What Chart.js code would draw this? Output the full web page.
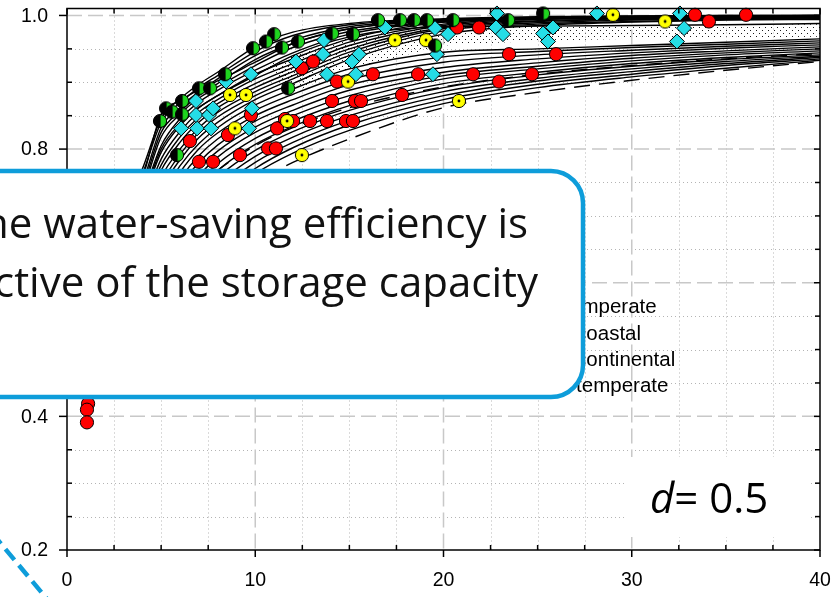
<!DOCTYPE html>
<html>
<head>
<meta charset="utf-8">
<script src="https://cdn.jsdelivr.net/npm/chart.js@4.4.1/dist/chart.umd.min.js"></script>
<style>
  html, body { margin: 0; padding: 0; background: #fff; overflow: hidden; }
  canvas { display: block; }
</style>
</head>
<body>
<canvas id="chart" width="837" height="597"></canvas>
<script>
// Storage capacity values shared by every efficiency curve
const capacity = [1, 2, 3, 4, 5, 6, 7, 8, 10, 12, 15, 20, 25, 30, 35, 40];

// Water-saving efficiency curves (one row per site)
const upperCurves = [
  [0.55, 0.64, 0.71, 0.770, 0.846, 0.875, 0.897, 0.915, 0.953, 0.975, 0.988, 0.995, 0.998, 0.999, 1.000, 1.000],
  [0.54, 0.63, 0.70, 0.762, 0.840, 0.869, 0.892, 0.910, 0.946, 0.970, 0.986, 0.994, 0.997, 0.999, 1.000, 1.000],
  [0.54, 0.63, 0.70, 0.756, 0.852, 0.872, 0.889, 0.902, 0.930, 0.958, 0.980, 0.993, 0.997, 0.999, 0.999, 1.000],
  [0.53, 0.62, 0.69, 0.748, 0.832, 0.862, 0.886, 0.905, 0.940, 0.963, 0.983, 0.993, 0.997, 0.998, 0.999, 1.000],
  [0.53, 0.62, 0.69, 0.742, 0.825, 0.856, 0.880, 0.898, 0.934, 0.958, 0.980, 0.992, 0.996, 0.998, 0.999, 0.999],
  [0.52, 0.61, 0.68, 0.736, 0.818, 0.852, 0.876, 0.893, 0.925, 0.952, 0.976, 0.991, 0.996, 0.998, 0.999, 0.999],
  [0.52, 0.61, 0.68, 0.730, 0.805, 0.845, 0.870, 0.888, 0.918, 0.944, 0.972, 0.990, 0.995, 0.997, 0.998, 0.999],
  [0.51, 0.60, 0.67, 0.725, 0.800, 0.838, 0.862, 0.880, 0.910, 0.940, 0.968, 0.983, 0.984, 0.985, 0.986, 0.988]
];
const middleCurves = [
  [0.51, 0.60, 0.67, 0.722, 0.795, 0.835, 0.862, 0.880, 0.912, 0.935, 0.965, 0.990, 0.995, 0.997, 0.998, 0.999],
  [0.51, 0.60, 0.67, 0.715, 0.785, 0.826, 0.855, 0.874, 0.905, 0.928, 0.960, 0.987, 0.994, 0.996, 0.998, 0.999],
  [0.50, 0.59, 0.66, 0.708, 0.776, 0.818, 0.848, 0.868, 0.898, 0.922, 0.955, 0.985, 0.992, 0.995, 0.997, 0.998],
  [0.50, 0.59, 0.66, 0.700, 0.768, 0.810, 0.840, 0.862, 0.892, 0.916, 0.950, 0.982, 0.991, 0.994, 0.996, 0.997],
  [0.49, 0.58, 0.65, 0.692, 0.758, 0.800, 0.832, 0.855, 0.886, 0.910, 0.945, 0.980, 0.989, 0.993, 0.995, 0.996],
  [0.49, 0.58, 0.65, 0.685, 0.748, 0.792, 0.825, 0.848, 0.880, 0.905, 0.940, 0.977, 0.987, 0.991, 0.994, 0.995],
  [0.48, 0.57, 0.64, 0.678, 0.740, 0.784, 0.817, 0.840, 0.874, 0.898, 0.934, 0.972, 0.985, 0.990, 0.993, 0.994]
];
const lowerCurves = [
  [0.48, 0.57, 0.63, 0.670, 0.730, 0.775, 0.808, 0.832, 0.866, 0.890, 0.920, 0.945, 0.950, 0.955, 0.960, 0.965],
  [0.47, 0.56, 0.62, 0.662, 0.720, 0.765, 0.800, 0.824, 0.858, 0.882, 0.912, 0.938, 0.946, 0.952, 0.957, 0.962],
  [0.47, 0.56, 0.62, 0.655, 0.710, 0.755, 0.790, 0.815, 0.850, 0.874, 0.904, 0.930, 0.941, 0.948, 0.954, 0.959],
  [0.46, 0.55, 0.61, 0.648, 0.700, 0.745, 0.780, 0.806, 0.842, 0.866, 0.896, 0.922, 0.935, 0.944, 0.951, 0.956],
  [0.46, 0.55, 0.61, 0.640, 0.690, 0.735, 0.770, 0.797, 0.833, 0.858, 0.888, 0.915, 0.929, 0.940, 0.947, 0.953],
  [0.45, 0.54, 0.60, 0.632, 0.680, 0.725, 0.760, 0.788, 0.825, 0.850, 0.880, 0.910, 0.924, 0.936, 0.944, 0.950],
  [0.45, 0.54, 0.60, 0.624, 0.670, 0.715, 0.750, 0.778, 0.816, 0.842, 0.872, 0.905, 0.920, 0.932, 0.941, 0.947],
  [0.45, 0.53, 0.59, 0.616, 0.660, 0.705, 0.740, 0.768, 0.807, 0.834, 0.865, 0.898, 0.915, 0.928, 0.937, 0.944],
  [0.45, 0.53, 0.59, 0.608, 0.650, 0.695, 0.730, 0.758, 0.798, 0.826, 0.858, 0.892, 0.911, 0.924, 0.934, 0.941],
  [0.45, 0.52, 0.58, 0.600, 0.640, 0.684, 0.720, 0.748, 0.789, 0.818, 0.850, 0.886, 0.906, 0.920, 0.931, 0.939],
  [0.45, 0.52, 0.57, 0.592, 0.630, 0.673, 0.709, 0.738, 0.780, 0.810, 0.843, 0.880, 0.902, 0.916, 0.928, 0.937],
  [0.45, 0.51, 0.56, 0.584, 0.620, 0.662, 0.698, 0.728, 0.771, 0.802, 0.836, 0.874, 0.897, 0.912, 0.925, 0.935],
  [0.45, 0.51, 0.55, 0.576, 0.610, 0.651, 0.688, 0.718, 0.763, 0.794, 0.828, 0.868, 0.892, 0.908, 0.921, 0.933]
];
const dashedCurves = [
  [0.45, 0.52, 0.58, 0.620, 0.670, 0.710, 0.742, 0.768, 0.805, 0.832, 0.862, 0.893, 0.912, 0.925, 0.935, 0.943],
  [0.45, 0.50, 0.54, 0.568, 0.600, 0.640, 0.676, 0.706, 0.750, 0.780, 0.815, 0.862, 0.885, 0.903, 0.918, 0.931]
];

// Stippled envelope band
const bandCapacity = [10.5, 12, 15, 20, 25, 30, 35, 40];
const bandUpper = [0.925, 0.940, 0.968, 0.983, 0.985, 0.985, 0.986, 0.987];
const bandLower = [0.915, 0.885, 0.920, 0.955, 0.962, 0.965, 0.967, 0.968];

// Site markers [storage capacity, efficiency]
const mixedPoints = [
  [11.0, 0.972], [10.57, 0.961], [9.88, 0.951], [11.42, 0.952], [12.27, 0.961], [8.39, 0.912],
  [7.01, 0.891], [7.60, 0.891], [6.11, 0.872], [5.26, 0.861], [5.58, 0.856], [6.11, 0.852],
  [4.94, 0.842], [5.84, 0.791], [11.74, 0.891], [16.52, 0.993], [17.69, 0.993], [18.43, 0.993],
  [19.12, 0.993], [20.5, 0.993], [23.43, 0.993], [25.29, 1.003], [14.08, 0.973], [15.19, 0.972],
  [19.55, 0.955]
];
const cyanPoints = [
  [6.06, 0.831], [6.91, 0.831], [7.65, 0.831], [9.67, 0.831], [6.85, 0.851], [7.54, 0.851],
  [7.76, 0.861], [9.83, 0.861], [6.85, 0.872], [8.45, 0.901], [9.77, 0.912], [12.16, 0.931],
  [13.81, 0.912], [13.65, 0.963], [13.6, 0.942], [15.35, 0.912], [15.51, 0.942], [15.14, 0.931],
  [16.89, 0.982], [19.55, 0.981], [20.24, 0.972], [19.65, 0.942], [19.44, 0.912], [22.84, 1.003],
  [22.79, 0.982], [23.16, 0.972], [25.82, 0.982], [25.29, 0.973], [25.55, 0.961], [28.15, 1.003],
  [32.56, 1.003], [32.78, 0.981], [32.4, 0.961]
];
const yellowPoints = [
  [8.66, 0.881], [9.51, 0.881], [8.92, 0.831], [11.69, 0.842], [12.48, 0.791], [14.93, 0.901],
  [17.42, 0.963], [19.07, 0.963], [20.82, 0.872], [29.0, 1.001], [31.77, 0.991]
];
const redPoints = [
  [6.53, 0.812], [7.01, 0.781], [7.76, 0.781], [8.55, 0.821], [9.19, 0.791], [9.77, 0.851],
  [10.68, 0.801], [11.1, 0.801], [11.16, 0.831], [11.58, 0.845], [12.01, 0.842], [12.91, 0.842],
  [13.81, 0.842], [14.82, 0.842], [15.19, 0.842], [12.48, 0.921], [13.07, 0.931], [14.08, 0.872],
  [15.3, 0.872], [15.62, 0.872], [14.34, 0.901], [16.25, 0.912], [17.8, 0.881], [18.65, 0.912],
  [21.57, 0.912], [22.95, 0.901], [24.7, 0.912], [23.48, 0.942], [25.98, 0.942], [20.72, 0.982],
  [21.89, 0.982], [33.36, 1.001], [34.1, 0.991], [36.07, 1.001], [1.12, 0.419], [1.06, 0.410],
  [1.06, 0.391]
];

// Axis ticks
const xMajorTicks = [0, 10, 20, 30, 40];
const xMinorTicks = [2.5, 5, 7.5, 12.5, 15, 17.5, 22.5, 25, 27.5, 32.5, 35, 37.5];
const yMajorTicks = [0.2, 0.4, 0.6, 0.8, 1.0];
const yMinorTicks = [0.25, 0.3, 0.35, 0.45, 0.5, 0.55, 0.65, 0.7, 0.75, 0.85, 0.9, 0.95];

// Text
const legendLabels = ['Cool temperate', 'Warm coastal', 'Warm continental', 'Warm temperate'];
const calloutLines = ['The water-saving efficiency is', 'irrespective of the storage capacity'];
const paramValue = '0.5';

const BLUE = '#0e9dda';
const TICK_FONT = '19.5px "Liberation Sans", Arial, sans-serif';

function markerCanvas(paint) {
  const c = document.createElement('canvas');
  c.width = 16; c.height = 16;
  paint(c.getContext('2d'));
  return c;
}
const mixedMarker = markerCanvas(g => {
  g.beginPath(); g.arc(8, 8, 6.6, 0, Math.PI * 2); g.fillStyle = '#000'; g.fill();
  g.beginPath(); g.moveTo(8.6, 1.4); g.arc(8.6, 8, 6.0, -Math.PI / 2, Math.PI / 2); g.closePath();
  g.fillStyle = '#1fd41f'; g.fill();
  g.beginPath(); g.arc(8, 8, 6.6, 0, Math.PI * 2); g.lineWidth = 1; g.strokeStyle = '#000'; g.stroke();
});
const yellowMarker = markerCanvas(g => {
  g.beginPath(); g.arc(8, 8, 6.6, 0, Math.PI * 2); g.fillStyle = '#ffff00'; g.fill();
  g.lineWidth = 1; g.strokeStyle = '#000'; g.stroke();
  g.beginPath(); g.arc(8, 8, 1.4, 0, Math.PI * 2); g.fillStyle = '#000'; g.fill();
});

const tile = document.createElement('canvas');
tile.width = 6; tile.height = 6;
const tileCtx = tile.getContext('2d');
tileCtx.fillStyle = '#1a1a1a';
tileCtx.fillRect(0, 0, 1, 1);
tileCtx.fillRect(3, 3, 1, 1);
const stipple = tileCtx.createPattern(tile, 'repeat');

const toPoints = arr => arr.map(([x, y]) => ({ x, y }));
const curveSet = (ys, dashed) => ({
  data: capacity.map((x, i) => ({ x, y: ys[i] })),
  borderColor: '#000',
  borderWidth: 1.4,
  borderDash: dashed ? [16, 9] : [],
  pointRadius: 0,
  cubicInterpolationMode: 'monotone',
  fill: false
});

function buildDatasets() {
  const sets = [
    { data: toPoints(mixedPoints), showLine: false, pointStyle: mixedMarker, pointRadius: 7, clip: false },
    { data: toPoints(cyanPoints), showLine: false, pointStyle: 'rectRot', pointRadius: 7.5,
      backgroundColor: '#25dde6', borderColor: '#000', borderWidth: 1, clip: false },
    { data: toPoints(yellowPoints), showLine: false, pointStyle: yellowMarker, pointRadius: 7, clip: false },
    { data: toPoints(redPoints), showLine: false, pointStyle: 'circle', pointRadius: 6.6,
      backgroundColor: '#ff0000', borderColor: '#000', borderWidth: 1, clip: false }
  ];
  upperCurves.concat(middleCurves, lowerCurves).forEach(ys => sets.push(curveSet(ys, false)));
  dashedCurves.forEach(ys => sets.push(curveSet(ys, true)));
  const lowerIndex = sets.length;
  sets.push({ data: bandCapacity.map((x, i) => ({ x, y: bandLower[i] })), borderColor: 'rgba(0,0,0,0)',
    borderWidth: 0, pointRadius: 0, fill: false });
  sets.push({ data: bandCapacity.map((x, i) => ({ x, y: bandUpper[i] })), borderColor: 'rgba(0,0,0,0)',
    borderWidth: 0, pointRadius: 0, fill: { target: lowerIndex }, backgroundColor: stipple });
  return sets;
}

const decorations = {
  id: 'decorations',
  beforeDraw(chart) {
    const { ctx } = chart;
    ctx.save();
    ctx.fillStyle = '#fff';
    ctx.fillRect(0, 0, chart.width, chart.height);
    ctx.restore();
  },
  beforeDatasetsDraw(chart) {
    const { ctx, chartArea: a, scales: { x, y } } = chart;
    ctx.save();
    ctx.lineWidth = 1;
    ctx.strokeStyle = '#b4b4b4';
    ctx.setLineDash([1, 3]);
    xMinorTicks.forEach(v => {
      const px = Math.round(x.getPixelForValue(v)) + 0.5;
      ctx.beginPath(); ctx.moveTo(px, a.top); ctx.lineTo(px, a.bottom); ctx.stroke();
    });
    yMinorTicks.forEach(v => {
      const py = Math.round(y.getPixelForValue(v)) + 0.5;
      ctx.beginPath(); ctx.moveTo(a.left, py); ctx.lineTo(a.right, py); ctx.stroke();
    });
    ctx.lineWidth = 1.5;
    ctx.strokeStyle = '#c8c8c8';
    ctx.setLineDash([15, 6]);
    xMajorTicks.slice(1, -1).forEach(v => {
      const px = x.getPixelForValue(v);
      ctx.beginPath(); ctx.moveTo(px, a.top); ctx.lineTo(px, a.bottom); ctx.stroke();
    });
    yMajorTicks.slice(1).forEach(v => {
      const py = y.getPixelForValue(v);
      ctx.beginPath(); ctx.moveTo(a.left, py); ctx.lineTo(a.right, py); ctx.stroke();
    });
    ctx.restore();
  },
  afterDatasetsDraw(chart) {
    const { ctx, chartArea: a, scales: { x, y } } = chart;
    ctx.save();
    ctx.strokeStyle = '#000';
    ctx.lineWidth = 1.5;
    ctx.setLineDash([]);
    ctx.strokeRect(a.left, a.top, a.right - a.left, a.bottom - a.top);
    const seg = (x1, y1, x2, y2) => { ctx.beginPath(); ctx.moveTo(x1, y1); ctx.lineTo(x2, y2); ctx.stroke(); };
    xMajorTicks.forEach(v => {
      const px = x.getPixelForValue(v);
      seg(px, a.bottom, px, a.bottom + 7);
      seg(px, a.top, px, a.top + 6);
    });
    xMinorTicks.forEach(v => {
      const px = x.getPixelForValue(v);
      seg(px, a.bottom, px, a.bottom - 5);
      seg(px, a.top, px, a.top + 5);
    });
    yMajorTicks.forEach(v => {
      const py = y.getPixelForValue(v);
      seg(a.left - 8, py, a.left, py);
      seg(a.right - 6, py, a.right, py);
    });
    yMinorTicks.forEach(v => {
      const py = y.getPixelForValue(v);
      seg(a.left, py, a.left + 5, py);
      seg(a.right - 5, py, a.right, py);
    });

    // tick labels
    ctx.fillStyle = '#000';
    ctx.font = TICK_FONT;
    ctx.textBaseline = 'middle';
    ctx.textAlign = 'center';
    xMajorTicks.forEach(v => ctx.fillText(String(v), x.getPixelForValue(v), a.bottom + 31));
    ctx.textAlign = 'right';
    yMajorTicks.forEach(v => ctx.fillText(v.toFixed(1), a.left - 19, y.getPixelForValue(v) + 1));
    ctx.restore();
  },
  afterDraw(chart) {
    const { ctx } = chart;
    ctx.save();

    // legend
    const legendX = 516.5;
    const rowY = [313, 339.5, 366, 392];
    const legendStyles = ['#ff0000', '#25dde6', '#1fd41f', '#ffff00'];
    ctx.font = '20.5px "Liberation Sans", Arial, sans-serif';
    ctx.textAlign = 'left';
    ctx.textBaseline = 'alphabetic';
    legendLabels.forEach((label, i) => {
      ctx.beginPath();
      ctx.arc(legendX - 22, rowY[i] - 7, 6, 0, Math.PI * 2);
      ctx.fillStyle = legendStyles[i];
      ctx.fill();
      ctx.lineWidth = 1; ctx.strokeStyle = '#000'; ctx.stroke();
      ctx.fillStyle = '#000';
      ctx.fillText(label, legendX, rowY[i]);
    });

    // parameter annotation
    ctx.fillStyle = '#fff';
    ctx.fillRect(627, 457, 181, 80);
    ctx.fillStyle = '#000';
    ctx.font = 'italic 42px "Open Sans", sans-serif';
    ctx.fillText('d', 650, 513);
    const dw = ctx.measureText('d').width;
    ctx.font = '42px "Open Sans", sans-serif';
    ctx.fillText('= ' + paramValue, 650 + dw, 513);

    // callout box
    const bx = -40, by = 171, bw = 583 - bx, bh = 226, r = 32;
    ctx.beginPath();
    ctx.moveTo(bx + r, by);
    ctx.lineTo(bx + bw - r, by);
    ctx.arcTo(bx + bw, by, bx + bw, by + r, r);
    ctx.lineTo(bx + bw, by + bh - r);
    ctx.arcTo(bx + bw, by + bh, bx + bw - r, by + bh, r);
    ctx.lineTo(bx + r, by + bh);
    ctx.arcTo(bx, by + bh, bx, by + bh - r, r);
    ctx.lineTo(bx, by + r);
    ctx.arcTo(bx, by, bx + r, by, r);
    ctx.closePath();
    ctx.fillStyle = '#fff';
    ctx.fill();
    ctx.lineWidth = 4.5;
    ctx.strokeStyle = BLUE;
    ctx.stroke();

    ctx.fillStyle = '#111';
    ctx.font = '42px "Open Sans", sans-serif';
    ctx.textAlign = 'right';
    ctx.fillText(calloutLines[0], 528, 238);
    ctx.fillText(calloutLines[1], 538, 297);

    // pointer from the callout
    ctx.beginPath();
    ctx.setLineDash([14, 7]);
    ctx.lineWidth = 4.5;
    ctx.strokeStyle = BLUE;
    ctx.moveTo(-8, 533);
    ctx.lineTo(52, 605);
    ctx.stroke();
    ctx.restore();
  }
};

function render() {
  Chart.defaults.font.family = '"Liberation Sans", Arial, sans-serif';
  Chart.defaults.color = '#000';
  new Chart(document.getElementById('chart'), {
    type: 'line',
    data: { datasets: buildDatasets() },
    options: {
      responsive: false,
      animation: false,
      devicePixelRatio: 1,
      events: [],
      layout: { padding: { top: 7, right: 17, left: 0, bottom: 0 } },
      plugins: {
        legend: { display: false },
        tooltip: { enabled: false },
        filler: { drawTime: 'beforeDatasetsDraw' }
      },
      scales: {
        x: {
          type: 'linear', min: 0, max: 40,
          grid: { display: false, drawTicks: false },
          border: { display: false },
          ticks: { display: false },
          afterFit: s => { s.height = 47; }
        },
        y: {
          type: 'linear', min: 0.2, max: 1.0104,
          grid: { display: false, drawTicks: false },
          border: { display: false },
          ticks: { display: false },
          afterFit: s => { s.width = 67; }
        }
      }
    },
    plugins: [decorations]
  });
}

const fontsReady = document.fonts
  ? Promise.all([
      document.fonts.load('42px "Open Sans"'),
      document.fonts.load('italic 42px "Open Sans"'),
      document.fonts.load('20px "Liberation Sans"')
    ]).catch(() => null)
  : Promise.resolve();
fontsReady.then(render);
</script>
</body>
</html>
